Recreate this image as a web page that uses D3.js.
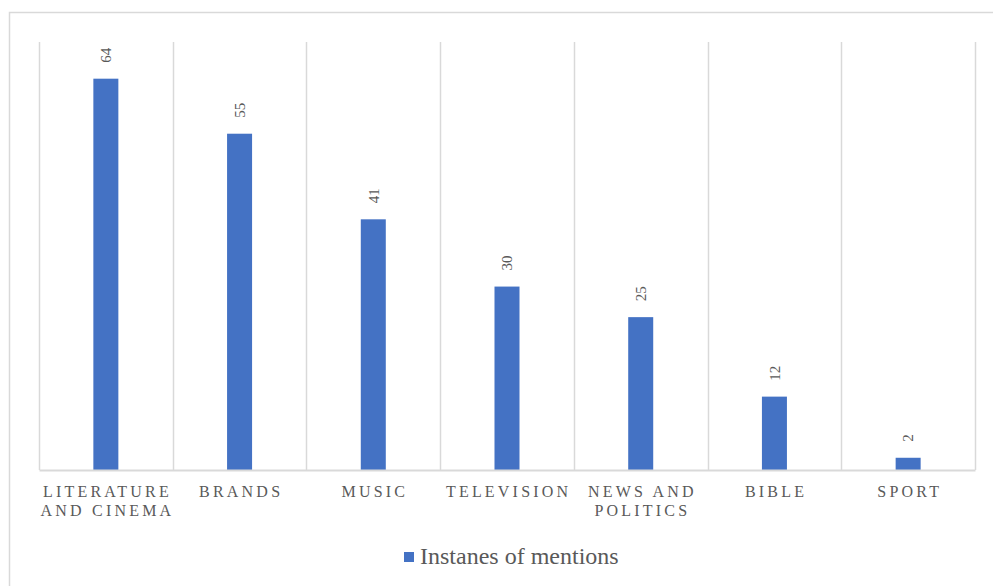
<!DOCTYPE html>
<html>
<head>
<meta charset="utf-8">
<script src="https://cdn.jsdelivr.net/npm/d3@7"></script>
<style>
  body { margin: 0; background: #fff; }
  svg { display: block; }
  .serif { font-family: "Liberation Serif", "Times New Roman", "DejaVu Serif", serif; }
</style>
</head>
<body>
<div id="chart"></div>
<script>
// chart data
var categories = ['LITERATURE AND CINEMA', 'BRANDS', 'MUSIC', 'TELEVISION', 'NEWS AND POLITICS', 'BIBLE', 'SPORT']
var mentions = [64, 55, 41, 30, 25, 12, 2]
var seriesName = 'Instanes of mentions'
var yMax = 70

// layout settings
var chart = {}
chart.width = 993
chart.height = 586
chart.plot = { left: 39, right: 975, top: 42, bottom: 470 }
chart.barColor = '#4472c4'
chart.gridColor = '#d9d9d9'
chart.textColor = '#595959'

var svg = d3.select('#chart')
  .append('svg')
  .attr('width', chart.width)
  .attr('height', chart.height)

// outer chart border
svg.append('rect')
  .attr('x', 9.5)
  .attr('y', 12.5)
  .attr('width', chart.width)
  .attr('height', chart.height)
  .attr('fill', 'none')
  .attr('stroke', chart.gridColor)
  .attr('stroke-width', 1.5)

// scales
chart.xScale = d3.scaleBand()
  .domain(categories)
  .range([chart.plot.left, chart.plot.right])
chart.yScale = d3.scaleLinear()
  .domain([0, yMax])
  .range([chart.plot.bottom, chart.plot.top])

var barWidth = chart.xScale.bandwidth() * 0.187

// vertical gridlines at the category boundaries
var bounds = categories.map(function (d) { return chart.xScale(d) })
bounds.push(chart.plot.right)
svg.append('g')
  .attr('id', 'g-grid')
  .selectAll('line')
  .data(bounds)
  .enter()
  .append('line')
  .attr('x1', function (d) { return Math.round(d) + 0.5 })
  .attr('x2', function (d) { return Math.round(d) + 0.5 })
  .attr('y1', chart.yScale(yMax))
  .attr('y2', chart.yScale(0))
  .attr('stroke', chart.gridColor)
  .attr('stroke-width', 1.5)

// bars
svg.append('g')
  .attr('id', 'g-bars')
  .selectAll('rect')
  .data(mentions)
  .enter()
  .append('rect')
  .attr('x', function (d, i) { return chart.xScale(categories[i]) + chart.xScale.bandwidth() / 2 - barWidth / 2 })
  .attr('y', function (d) { return chart.yScale(d) })
  .attr('width', barWidth)
  .attr('height', function (d) { return chart.yScale(0) - chart.yScale(d) })
  .attr('fill', chart.barColor)

// rotated data labels above the bars
svg.append('g')
  .attr('id', 'g-labels')
  .selectAll('text')
  .data(mentions)
  .enter()
  .append('text')
  .attr('class', 'serif')
  .attr('transform', function (d, i) {
    var cx = chart.xScale(categories[i]) + chart.xScale.bandwidth() / 2
    return 'translate(' + cx + ',' + (chart.yScale(d) - 16) + ')rotate(-90)'
  })
  .attr('text-anchor', 'start')
  .attr('dy', '0.35em')
  .style('font-size', '15px')
  .attr('fill', chart.textColor)
  .text(function (d) { return d })

// x axis: baseline and wrapped category labels
var xAxis = d3.axisBottom(chart.xScale).tickSize(0).tickPadding(0)
var gx = svg.append('g')
  .attr('id', 'g-xAxis')
  .attr('transform', 'translate(0,' + chart.plot.bottom + ')')
  .call(xAxis)
gx.select('.domain')
  .attr('stroke', chart.gridColor)
  .attr('stroke-width', 2)
gx.selectAll('.tick text').remove()
gx.selectAll('.tick')
  .append('text')
  .attr('class', 'serif')
  .attr('fill', chart.textColor)
  .style('font-size', '16px')
  .style('letter-spacing', '3.2px')
  .attr('text-anchor', 'middle')
  .each(function (d) {
    wrapLabel(d3.select(this), d, chart.xScale.bandwidth() + 4)
  })

// splits a label over several lines so each fits in the band
function wrapLabel (text, label, maxWidth) {
  var words = label.split(' ')
  var lines = []
  var line = []
  words.forEach(function (w) {
    var test = line.concat([w]).join(' ')
    var tmp = text.append('tspan').text(test)
    var width = tmp.node().getComputedTextLength()
    tmp.remove()
    if (width > maxWidth && line.length) {
      lines.push(line.join(' '))
      line = [w]
    } else {
      line.push(w)
    }
  })
  lines.push(line.join(' '))
  lines.forEach(function (l, i) {
    text.append('tspan')
      .attr('x', 1.6)
      .attr('y', 27 + i * 18.5)
      .text(l)
  })
}

// legend
var legend = svg.append('g')
  .attr('id', 'g-legend')
  .attr('transform', 'translate(404,552)')
legend.append('rect')
  .attr('width', 10)
  .attr('height', 10)
  .attr('fill', chart.barColor)
legend.append('text')
  .attr('class', 'serif')
  .attr('x', 16)
  .attr('y', 11.5)
  .style('font-size', '24px')
  .attr('fill', chart.textColor)
  .text(seriesName)
</script>
</body>
</html>
